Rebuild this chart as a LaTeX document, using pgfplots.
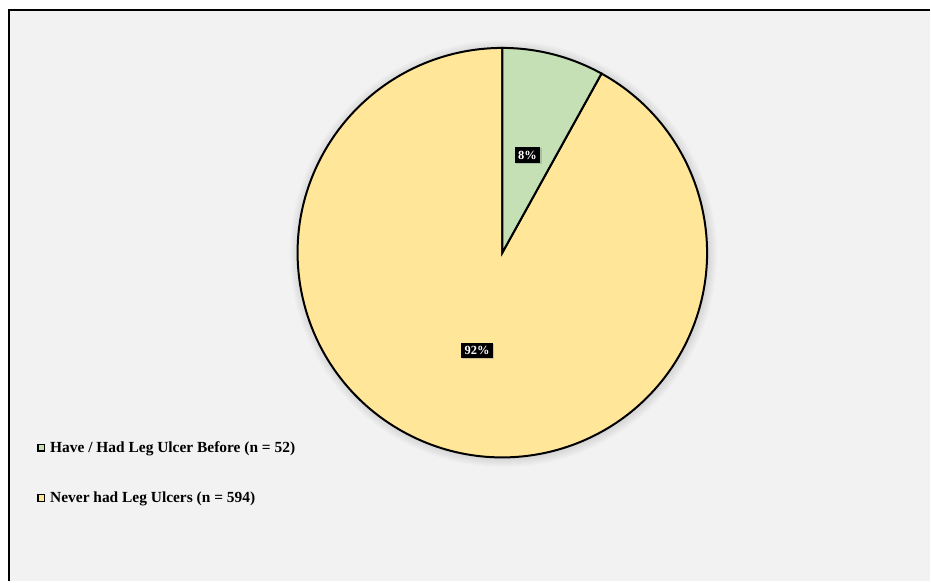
\documentclass[border=0pt]{standalone}
\usepackage{pgfplots}
\pgfplotsset{compat=1.18}
\usepackage{pgfplotstable}
\usepackage{fontspec}
\setmainfont{Liberation Serif}
\usetikzlibrary{shadows,calc}
\definecolor{bg}{HTML}{F2F2F2}
\definecolor{pgreen}{HTML}{C5E0B4}
\definecolor{pyellow}{HTML}{FFE699}
\pgfplotstableread{
label value
Have 52
Never 594
}\piedata
\pgfplotstablegetelem{0}{value}\of\piedata\let\va\pgfplotsretval
\pgfplotstablegetelem{1}{value}\of\piedata\let\vb\pgfplotsretval
\pgfmathsetmacro\angA{\va/(\va+\vb)*360}
\pgfmathsetmacro\endA{90-\angA}
\pgfmathsetmacro\midA{90-\angA/2}
\pgfmathsetmacro\midB{90-\angA-(360-\angA)/2}
\begin{document}
\begin{tikzpicture}
\begin{axis}[
  scale only axis, width=931bp, height=582bp,
  xmin=0, xmax=931, ymin=0, ymax=582,
  hide axis, clip=false,
  legend cell align=left,
  legend image code/.code={\draw[#1, line width=1.5bp] (0bp,-3.3bp) rectangle (6.6bp,3.3bp);},
  legend style={draw=none, fill=none, at={(axis cs:37,142)}, anchor=north west,
    font=\bfseries\fontsize{15.5}{17}\selectfont, row sep=34bp, inner sep=0pt,
    nodes={inner sep=2bp}, /tikz/column sep=3bp},
]
\fill[white] (axis cs:0,0) rectangle (axis cs:931,582);
\fill[bg] (axis cs:9,0) rectangle (axis cs:931,572);
\draw[black, line width=2.5bp] (axis cs:9,0) -- (axis cs:9,572) -- (axis cs:931,572);
\pgfplotsinvokeforeach{1,...,9}{
  \fill[black, opacity=0.012] (axis cs:504,328) circle[radius=205bp+#1bp];
}
\filldraw[fill=pyellow, draw=black, line width=2bp] (axis cs:503,329) -- ++(\endA:205bp) arc[start angle=\endA, end angle=-270, radius=205bp] -- cycle;
\filldraw[fill=pgreen, draw=black, line width=2bp] (axis cs:503,329) -- ++(90:205bp) arc[start angle=90, end angle=\endA, radius=205bp] -- cycle;
\node[fill=black, text=white, font=\bfseries\fontsize{12.5}{12.5}\selectfont, inner sep=3.5bp,
  drop shadow={opacity=0.35, shadow xshift=1.2bp, shadow yshift=-1.2bp}]
  at ($(axis cs:503,329)+(\midA:101bp)$) {8\%};
\node[fill=black, text=white, font=\bfseries\fontsize{12.5}{12.5}\selectfont, inner sep=3.5bp,
  drop shadow={opacity=0.35, shadow xshift=1.2bp, shadow yshift=-1.2bp}]
  at ($(axis cs:503,329)+(\midB:101bp)$) {92\%};
\addlegendimage{fill=pgreen, draw=black}
\addlegendentry{Have / Had Leg Ulcer Before (n = 52)}
\addlegendimage{fill=pyellow, draw=black}
\addlegendentry{Never had Leg Ulcers (n = 594)}
\end{axis}
\end{tikzpicture}
\end{document}
